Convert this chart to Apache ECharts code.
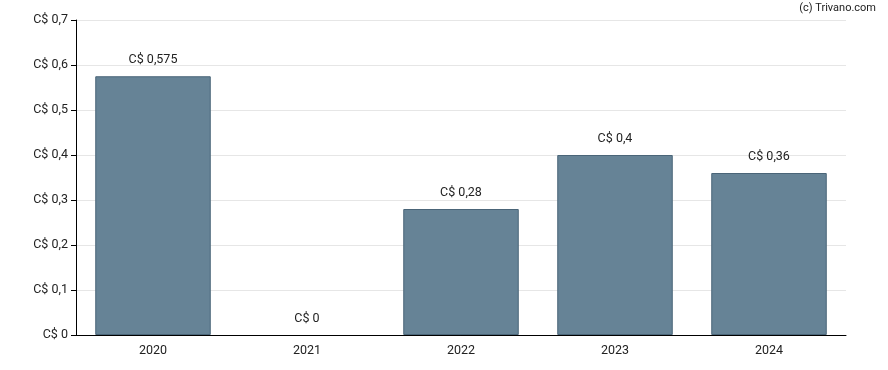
<!DOCTYPE html>
<html><head><meta charset="utf-8">
<script src="https://cdn.jsdelivr.net/npm/echarts@6/dist/echarts.min.js"></script>
<style>html,body{margin:0;padding:0;background:#fff}#c{width:888px;height:370px}</style>
</head><body><div id="c"></div>
<script>
const categories = ['2020','2021','2022','2023','2024'];
const values = [0.575, 0, 0.28, 0.4, 0.36];
const yTicks = [0,0.1,0.2,0.3,0.4,0.5,0.6,0.7];
const fmt = v => 'C$ ' + String(+v.toFixed(3)).replace('.', ',');
const chart = echarts.init(document.getElementById('c'), null, {renderer:'canvas'});
chart.setOption({
  animation:false,
  textStyle:{fontFamily:'Roboto'},
  graphic:[{type:'text',right:12,top:3,style:{text:'(c) Trivano.com',font:'11px Roboto',fill:'#222'}}],
  grid:{left:76,right:42,top:20,bottom:35},
  xAxis:{type:'category',data:categories,
    axisLine:{lineStyle:{color:'#000',width:1}},
    axisTick:{alignWithLabel:true,length:5,lineStyle:{color:'#000'}},
    axisLabel:{color:'#222',fontSize:12.5,margin:9}},
  yAxis:{type:'value',min:0,max:0.7,interval:0.1,
    axisLine:{show:true,lineStyle:{color:'#000'}},
    axisTick:{show:true,length:5,lineStyle:{color:'#000'}},
    axisLabel:{color:'#222',fontSize:12.5,margin:8,formatter:v=>fmt(v)},
    splitLine:{lineStyle:{color:'#e6e6e6'}}},
  series:[{type:'bar',
    data:values.map(v=>({value:v,itemStyle:{borderWidth:v===0?0:1}})),
    barWidth:'75%',
    itemStyle:{color:'#668396',borderColor:'#4a6578',borderWidth:1},
    label:{show:true,position:'top',distance:10,color:'#222',fontSize:12.5,formatter:p=>fmt(p.value)}}]
});
</script></body></html>
